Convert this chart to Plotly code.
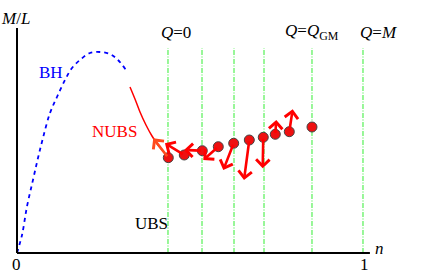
import plotly.graph_objects as go

# ---- data (n, M/L in normalised units) ----
bh_n = [0, 0.0145, 0.0289, 0.0462, 0.0607, 0.0751, 0.0954, 0.1156, 0.1387, 0.1590, 0.1821, 0.2110, 0.2399, 0.2688, 0.2919, 0.3150]
bh_m = [0, 0.08, 0.2067, 0.3244, 0.4222, 0.5111, 0.6222, 0.6933, 0.7689, 0.8222, 0.8578, 0.8889, 0.8933, 0.8844, 0.8578, 0.8133]

nubs_n = [0.3266, 0.3410, 0.3555, 0.3728, 0.3902, 0.4075, 0.4249]
nubs_m = [0.7378, 0.6844, 0.6267, 0.5689, 0.52, 0.48, 0.4489]

dot_n = [0.4373, 0.4835, 0.5355, 0.5818, 0.6263, 0.6714, 0.7118, 0.7465, 0.7870, 0.8526]
dot_m = [0.4236, 0.4356, 0.4547, 0.4724, 0.4876, 0.5022, 0.5142, 0.5276, 0.5391, 0.56]

arrow_n = [0.3939, 0.4277, 0.4827, 0.5384, 0.5962, 0.6561, 0.7101, 0.7494, 0.7968]
arrow_m = [0.5098, 0.4876, 0.4578, 0.4133, 0.3689, 0.3244, 0.3764, 0.5911, 0.6387]
arrow_colors = ["#ff4a1c"] + ["#ff0000"] * 8

q_lines = [0.4364, 0.5347, 0.6272, 0.7139, 0.8526, 1.0]
q_top = 0.9111

q_labels = [(0.4595, "<i>Q</i>=0"), (0.8526, "<i>Q</i>=<i>Q</i><sub>GM</sub>"), (1.0434, "<i>Q</i>=<i>M</i>")]

FONT = "Liberation Serif"

fig = go.Figure()

for qx in q_lines:
    fig.add_trace(go.Scatter(x=[qx, qx], y=[0, q_top], mode="lines",
                             line=dict(color="#33ee33", width=1, dash="5px,1.5px,1px,1.5px"),
                             hoverinfo="skip", showlegend=False))

fig.add_trace(go.Scatter(x=bh_n, y=bh_m, mode="lines", line=dict(color="#0000ff", width=1.8, dash="4px,4px", shape="spline"),
                         showlegend=False))
fig.add_trace(go.Scatter(x=nubs_n, y=nubs_m, mode="lines", line=dict(color="#ff0000", width=1.5, shape="spline"),
                         showlegend=False))

for i in range(len(arrow_n)):
    fig.add_annotation(x=arrow_n[i], y=arrow_m[i], ax=dot_n[i], ay=dot_m[i], xref="x", yref="y",
                       axref="x", ayref="y", showarrow=True, arrowhead=4, arrowsize=1.0,
                       arrowwidth=2.6, arrowcolor=arrow_colors[i], text="")

fig.add_trace(go.Scatter(x=dot_n, y=dot_m, mode="markers",
                         marker=dict(color="#ee1111", size=10, line=dict(color="#444444", width=1)),
                         showlegend=False))

# axes
fig.add_shape(type="line", x0=0, y0=0, x1=1.02, y1=0, line=dict(color="black", width=2))
fig.add_shape(type="line", x0=0, y0=0, x1=0, y1=1.0, line=dict(color="black", width=2))

def txt(x, y, s, color="black", size=17):
    fig.add_annotation(x=x, y=y, text=s, showarrow=False, xref="x", yref="y",
                       font=dict(family=FONT, size=size, color=color))

for qx, s in q_labels:
    txt(qx, 0.982, s)
txt(-0.003, 1.04, "<i>M</i>/<i>L</i>")
txt(0.0983, 0.80, "BH", "#0000ff")
txt(0.2832, 0.5378, "NUBS", "#ff0000")
txt(0.3873, 0.1333, "UBS")
txt(0.0, -0.049, "0")
txt(1.003, -0.053, "1")
txt(1.049, 0.018, "<i>n</i>")

fig.update_layout(width=436, height=278, margin=dict(l=0, r=0, t=0, b=0),
                  paper_bgcolor="white", plot_bgcolor="white",
                  xaxis=dict(range=[-0.0491, 1.2110], visible=False, fixedrange=True),
                  yaxis=dict(range=[-0.1111, 1.1244], visible=False, fixedrange=True))

fig.write_html("out.html", config={"displayModeBar": False},
               post_script="document.body.style.margin='0';document.body.style.padding='0';")
